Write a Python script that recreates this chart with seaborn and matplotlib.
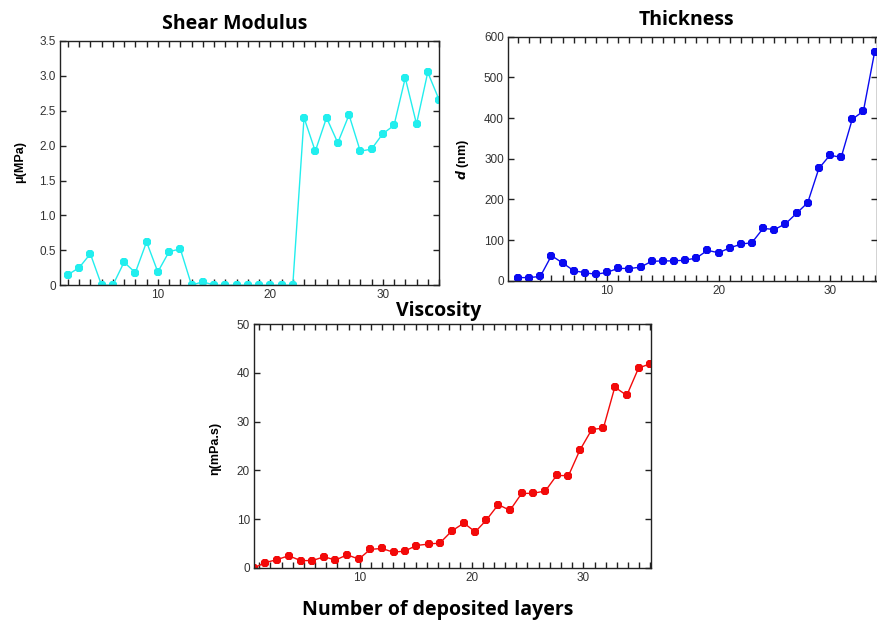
import numpy as np
import pandas as pd
import matplotlib
matplotlib.use("Agg")
import matplotlib.pyplot as plt
import seaborn as sns
from matplotlib.ticker import MultipleLocator, FixedLocator

# data
shear_layers = list(range(2, 36))
shear_mu = [0.15, 0.25, 0.45, 0.0, 0.0, 0.33, 0.18, 0.62, 0.19, 0.48, 0.52, 0.0,
            0.05, 0.0, 0.0, 0.0, 0.0, 0.0, 0.0, 0.0, 0.0, 2.40, 1.92, 2.40,
            2.04, 2.44, 1.92, 1.95, 2.17, 2.29, 2.97, 2.31, 3.05, 2.66]

thick_layers = list(range(2, 35))
thick_d = [8, 8, 11, 62, 44, 25, 20, 16, 21, 31, 30, 34, 48, 49, 49, 51, 56,
           75, 69, 81, 90, 94, 129, 126, 140, 166, 192, 276, 309, 303, 397,
           417, 561]

visc_layers = [0.54, 1.55, 2.60, 3.64, 4.72, 5.76, 6.81, 7.82, 8.87, 9.91,
               10.93, 11.97, 13.04, 14.06, 15.07, 16.15, 17.16, 18.24, 19.31,
               20.33, 21.31, 22.39, 23.43, 24.48, 25.49, 26.60, 27.61, 28.66,
               29.67, 30.75, 31.79, 32.81, 33.88, 34.93, 35.97]
visc_eta = [0.0, 1.1, 1.7, 2.5, 1.5, 1.5, 2.3, 1.6, 2.7, 1.8, 3.8, 4.0, 3.2,
            3.5, 4.6, 4.9, 5.1, 7.6, 9.2, 7.4, 9.8, 13.0, 11.8, 15.3, 15.3,
            15.8, 19.0, 18.9, 24.1, 28.4, 28.7, 37.1, 35.4, 41.0, 41.9]

shear_yticks = [0, 0.5, 1.0, 1.5, 2.0, 2.5, 3.0, 3.5]
shear_ylabels = ["0", "0.5", "1.0", "1.5", "2.0", "2.5", "3.0", "3.5"]
x_major = [10, 20, 30]

sns.set_style("ticks")
plt.rcParams["font.family"] = ["Liberation Sans", "DejaVu Sans"]

fig = plt.figure(figsize=(8.78, 6.2), dpi=100)
ax1 = fig.add_axes([0.0683, 0.540, 0.4317, 0.394])
ax2 = fig.add_axes([0.5786, 0.547, 0.4200, 0.394])
ax3 = fig.add_axes([0.2893, 0.084, 0.4522, 0.393])

sns.lineplot(x=shear_layers, y=shear_mu, ax=ax1, color="#22EEEE", marker="8",
             markersize=6.5, markeredgewidth=0, linewidth=1)
sns.lineplot(x=thick_layers, y=thick_d, ax=ax2, color="#0A0AF0", marker="8",
             markersize=6.5, markeredgewidth=0, linewidth=1)
sns.lineplot(x=visc_layers, y=visc_eta, ax=ax3, color="#F20A0A", marker="8",
             markersize=7, markeredgewidth=0, linewidth=1)

ax1.set_xlim(1.3, 35.0)
ax1.set_ylim(0, 3.5)
ax1.set_yticks(shear_yticks)
ax1.set_yticklabels(shear_ylabels)

ax2.set_xlim(1.1, 34.2)
ax2.set_ylim(0, 600)
ax2.yaxis.set_major_locator(MultipleLocator(100))

ax3.set_xlim(0.54, 36.05)
ax3.set_ylim(0, 50)
ax3.yaxis.set_major_locator(MultipleLocator(10))

for ax in (ax1, ax2, ax3):
    ax.xaxis.set_major_locator(FixedLocator(x_major))
    ax.xaxis.set_minor_locator(MultipleLocator(1))
    ax.tick_params(axis="x", which="both", direction="in", top=True,
                   bottom=True, length=4.5, width=1, color="#222222",
                   labelsize=8.5, labelcolor="#333333", pad=3)
    ax.tick_params(axis="y", which="major", direction="in", left=True,
                   right=True, length=4.5, width=1, color="#222222",
                   labelsize=8.5, labelcolor="#333333", pad=3)
    for sp in ax.spines.values():
        sp.set_visible(True)
        sp.set_color("#222222")
        sp.set_linewidth(1)
    ax.set_xlabel("")
    ax.set_ylabel("")

title_font = ["Open Sans", "DejaVu Sans"]
fig.text(0.267, 0.962, "Shear Modulus", ha="center", va="center",
         fontsize=14, fontweight="bold", family=title_font, color="black")
fig.text(0.782, 0.968, "Thickness", ha="center", va="center",
         fontsize=14, fontweight="bold", family=title_font, color="black")
fig.text(0.500, 0.498, "Viscosity", ha="center", va="center",
         fontsize=14, fontweight="bold", family=title_font, color="black")
fig.text(0.498, 0.016, "Number of deposited layers", ha="center",
         va="center", fontsize=14, fontweight="bold", family=title_font,
         color="black")

fig.text(0.023, 0.739, "\u03bc(MPa)", rotation=90, ha="center", va="center",
         fontsize=9, fontweight="bold", color="black")
fig.text(0.527, 0.742, "$\\boldsymbol{d}$ (nm)", rotation=90, ha="center",
         va="center", fontsize=9, fontweight="bold", color="black")
fig.text(0.245, 0.277, "\u03b7(mPa.s)", rotation=90, ha="center", va="center",
         fontsize=9, fontweight="bold", color="black")

fig.savefig("out.png", dpi=100, facecolor="white")
